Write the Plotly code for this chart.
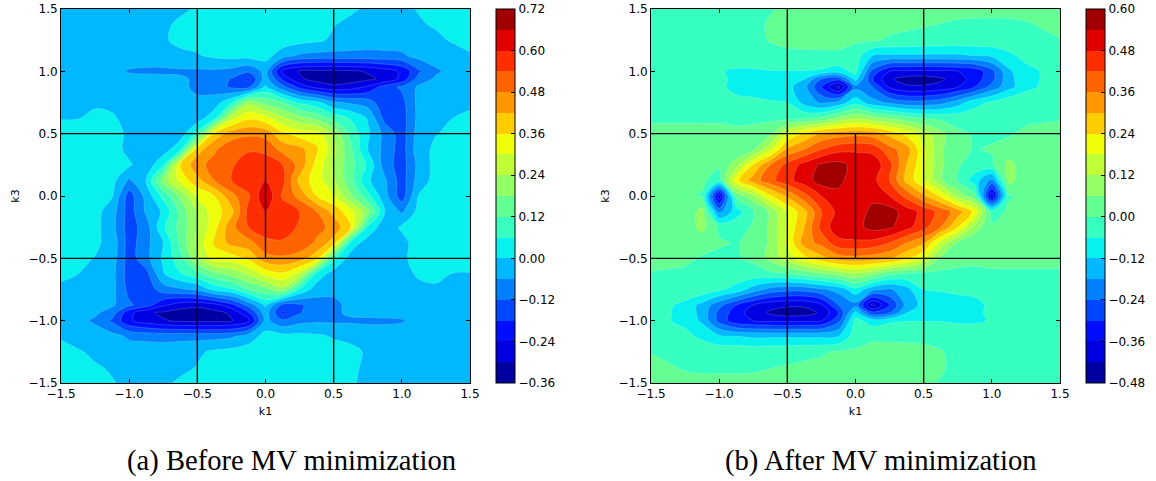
import plotly.graph_objects as go

k1_values = [-1.5,-1.375,-1.25,-1.125,-1.0,-0.875,-0.75,-0.625,-0.5,-0.375,-0.25,-0.125,0.0,
        0.125,0.25,0.375,0.5,0.625,0.75,0.875,1.0,1.125,1.25,1.375,1.5]
k3_values = [1.5,1.375,1.25,1.125,1.0,0.9375,0.875,0.75,0.625,0.5,0.375,0.25,0.125,0.0,
        -0.125,-0.25,-0.375,-0.5,-0.625,-0.75,-0.875,-0.9375,-1.0,-1.125,-1.25,-1.375,-1.5]

# values in hundredths, rows from k3=1.5 down to k3=-1.5
z_before = [
[-2,-2,-2,-2,-2,-2,-2,-1,.5,2,3,3,3,3,3,3,2,1,-1,-2,-1,.3,1.5,2.5,3],
[-2,-2,-2,-2,-2,-2,-1,1,2,3,3,3,3,3,2,2,.3,-1.5,-2,-2,-2,-.5,.5,1.5,2],
[-3,-3,-3,-3,-3,-3,-.5,1,2,2,2,3,3,3,2,1,-1,-2,-3,-3,-3,-2,-1,.5,1.5],
[-3,-3,-3,-3,-3,-3,-3,-1,-.5,1,2,2,2,-3,-7,-8,-8,-8,-8,-7.5,-7,-4,-3,-2,-.5],
[-3,-3,-3.5,-4,-6.5,-7,-7,-7,-7,-7,-8,-11,-4,-26,-30.5,-31.5,-31.5,-31,-29.5,-27,-23,-13,-7,-4,-2.5],
[-3,-3,-3,-3.5,-4,-4,-4.5,-5,-7,-8,-12.5,-19,-3,-19,-29,-32,-34.5,-33,-31,-29,-22,-9,-5,-3.5,-2.5],
[-3,-3,-3,-3,-3,-3,-3.5,-4,-8,-9,-13,-14,1,-10,-20,-26,-28,-27,-23,-15,-11,-5,-3,-3,-2],
[-3,-2.5,-1,-1.5,-3,-3,-3,-3,-4,-3,5,22,16,12,5,2,-5,-7,-9,-16,-14,-4,-3,-2,-1],
[-.2,-.2,1.5,.8,-2,-3,-3,-3,-3,4,28,35,32,25,20,16,10,5.5,-.5,-14,-15,-4,-2,0,1],
[2,2,2,2,-1,-2,-2.5,-3,8,38,45,47,46,37,33,33,23,10,1,-8,-15,-3,-.2,1,2],
[3,3,3,3,-2,-4,-3,4,39,47,52,53,52,46,44,37,26,13,0,-8,-15,-2,1,3,3],
[4,4,4,2,1,-4,5,36,46,50,53,58,58,54,46,34,24,14,5,-9,-15,-4,2,4,4],
[3,4,4,2,-7,0,20,32,40,48,54,58,60,56,40,33,25,14,1,-5,-15,-3,2,4,4],
[3,4,3,.5,-15,-4,8,19,31,36,46,53,65,53,46,36,31,19,8,-4,-15,.5,3,4,3],
[4,4,2,-3,-15,-5,1,14,25,33,40,56,60,58,54,48,40,32,20,0,-7,2,4,4,3],
[4,4,2,-4,-15,-9,5,14,24,34,46,54,58,58,53,50,46,36,5,-4,1,2,4,4,4],
[3,3,1,-2,-15,-8,0,13,26,37,44,46,52,53,52,47,39,4,-3,-4,-2,3,3,3,3],
[2,1,-.2,-3,-15,-8,1,10,23,33,33,37,46,47,45,38,8,-3,-2.5,-2,-1,2,2,2,2],
[1,0,-2,-4,-15,-14,-.5,5.5,10,16,20,25,32,35,28,4,-3,-3,-3,-3,-2,.8,1.5,-.2,-.2],
[-1,-2,-3,-4,-14,-16,-9,-7,-5,2,5,12,16,22,5,-3,-4,-3,-3,-3,-3,-1.5,-1,-2.5,-3],
[-2,-3,-3,-5,-11,-15,-23,-27,-28,-26,-20,-10,1,-14,-13,-9,-8,-4,-3.5,-3,-3,-3,-3,-3,-3],
[-2.5,-3.5,-5,-9,-22,-29,-31,-33,-34.5,-32,-29,-19,-3,-19,-12.5,-8,-7,-5,-4.5,-4,-4,-3.5,-3,-3,-3],
[-2.5,-4,-7,-13,-23,-27,-29.5,-31,-31.5,-31.5,-30.5,-26,-4,-11,-8,-7,-7,-7,-7,-7,-6.5,-4,-3.5,-3,-3],
[-.5,-2,-3,-4,-7,-7.5,-8,-8,-8,-8,-7,-3,2,2,2,1,-.5,-1,-3,-3,-3,-3,-3,-3,-3],
[1.5,.5,-1,-2,-3,-3,-3,-2,-1,1,2,3,3,3,2,2,2,1,-.5,-3,-3,-3,-3,-3,-3],
[2,1.5,.5,-.5,-2,-2,-2,-1.5,.3,2,2,3,3,3,3,3,2,1,-1,-2,-2,-2,-2,-2,-2],
[3,2.5,1.5,.3,-1,-2,-1,1,2,3,3,3,3,3,3,3,2,.5,-1,-2,-2,-2,-2,-2,-2],
]

z_after = [
[-1,-1,-1,-1,-1,-1,-1,-.2,.5,1,1,1.5,1.5,1.5,1.5,1.5,1,1,1,1,1,1,1,1,1],
[-1,-1,-1,-1,-1,-1,-.7,.3,.8,1,1,1.2,1.2,1.2,1,.7,.3,-.1,-.5,-.7,-.7,-.7,-.3,.3,.8],
[-1.5,-1.5,-1.5,-1.5,-1.5,-1.5,-1,.2,.5,.7,.8,.8,.8,.5,-.5,-1,-1.5,-1.8,-2,-2,-2,-1.5,-1.2,-.7,-.1],
[-1.5,-1.5,-1.5,-1.5,-1.5,-1.5,-1.5,-1.2,-.5,-.5,-.5,-.5,-3,-12,-13,-13,-13,-13,-13,-12,-11,-7.5,-4,-2.5,-1.5],
[-2,-2,-2.5,-3,-5.5,-7,-7,-6.3,-6.3,-6.3,-7,-9,-4,-26,-36,-37,-37.5,-37,-36,-34,-26,-13,-8,-5.5,-3],
[-2,-2,-3,-3.5,-5,-7,-7.5,-8,-8,-12,-24,-28,-10,-30,-41,-44.5,-45,-43,-39,-33,-26,-14,-8,-5.5,-3.5],
[-2,-2.5,-3,-3.5,-4.5,-8,-8,-9,-10,-16,-30,-44,-20,-24,-37,-41,-41,-40,-36,-30,-22,-14,-8,-5,-4],
[-1.5,-1.5,-1.5,-1.5,-2,-4,-5,-5.5,-6,-14,-19,-16,-8,-16,-19,-22,-22,-20,-15,-8,-5,-2,-1,-1,-1],
[-.5,-.5,-.5,-.5,-.5,-1,-1,-1.5,-2,-1,1,7,11,8,5,2,-.5,-1.5,-2,-2.5,-3,-1.5,-1,-.5,-.2],
[1,1,1,1,1,1,1.5,5,18,25,31,33,34,33,28,22,15,8,1,-.5,-1,-.5,1,1,1],
[1,1,1,1,1,1.5,5,16,31,36,42,46,47,46,38,33,19,7,1,-.3,.5,2,2,1,1],
[1,1,1,2,1,9,24,36,44,50,55,56,52,52,44,30,19,7,.5,-2,-1,8,2,1,1],
[1,1,1.5,1,-3,22,33,40,46,51,57,55,52,50,42,28,19,7,-.5,-9,-20,8,2,1,1],
[1,1,1,-.5,-40,2,10,23,31,40,48,53,52,53,48,40,31,23,10,2,-40,-.5,1,1,1],
[1,1,2,8,-20,-9,-.5,7,19,28,42,50,52,55,57,51,46,40,33,22,-3,1,1.5,1,1],
[1,1,2,8,-1,-2,.5,7,19,30,44,52,52,56,55,50,44,36,24,9,1,2,1,1,1],
[1,1,2,2,.5,-.3,1,7,19,33,38,46,47,46,42,36,31,16,5,1.5,1,1,1,1,1],
[1,1,1,-.5,-1,-.5,1,8,15,22,28,33,34,33,31,25,18,5,1.5,1,1,1,1,1,1],
[-.2,-.5,-1,-1.5,-3,-2.5,-2,-1.5,-.5,2,5,8,11,7,1,-1,-2,-1.5,-1,-1,-.5,-.5,-.5,-.5,-.5],
[-1,-1,-1,-2,-5,-8,-15,-20,-22,-22,-19,-16,-8,-16,-19,-14,-6,-5.5,-5,-4,-2,-1.5,-1.5,-1.5,-1.5],
[-4,-5,-8,-14,-22,-30,-36,-40,-41,-41,-37,-24,-20,-44,-30,-16,-10,-9,-8,-8,-4.5,-3.5,-3,-2.5,-2],
[-3.5,-5.5,-8,-14,-26,-33,-39,-43,-45,-44.5,-41,-30,-10,-28,-24,-12,-8,-8,-7.5,-7,-5,-3.5,-3,-2,-2],
[-3,-5.5,-8,-13,-26,-34,-36,-37,-37.5,-37,-36,-26,-4,-9,-7,-6.3,-6.3,-6.3,-7,-7,-5.5,-3,-2.5,-2,-2],
[-1.5,-2.5,-4,-7.5,-11,-12,-13,-13,-13,-13,-13,-12,-3,-.5,-.5,-.5,-.5,-1.2,-1.5,-1.5,-1.5,-1.5,-1.5,-1.5,-1.5],
[-.1,-.7,-1.2,-1.5,-2,-2,-2,-1.8,-1.5,-1,-.5,.5,.8,.8,.8,.7,.5,.2,-1,-1.5,-1.5,-1.5,-1.5,-1.5,-1.5],
[.8,.3,-.3,-.7,-.7,-.7,-.5,-.1,.3,.7,1,1.2,1.2,1.2,1,1,.8,.3,-.7,-1,-1,-1,-1,-1,-1],
[1,1,1,1,1,1,1,1,1,1.5,1.5,1.5,1.5,1.5,1,1,.5,-.2,-1,-1,-1,-1,-1,-1,-1],
]

levels_before_start, levels_before_end = -0.36, 0.72
levels_after_start, levels_after_end = -0.48, 0.60
level_step = 0.06
ticks_before = [-0.36,-0.24,-0.12,0.0,0.12,0.24,0.36,0.48,0.60,0.72]
ticks_after = [-0.48,-0.36,-0.24,-0.12,0.0,0.12,0.24,0.36,0.48,0.60]
axis_ticks = [-1.5,-1.0,-0.5,0.0,0.5,1.0,1.5]

band_colors = ["rgb(0,0,160)","rgb(0,0,224)","rgb(0,14,255)","rgb(0,71,255)","rgb(0,128,255)",
 "rgb(0,184,255)","rgb(9,241,238)","rgb(55,255,192)","rgb(100,255,146)","rgb(146,255,100)",
 "rgb(192,255,55)","rgb(238,255,9)","rgb(255,204,0)","rgb(255,151,0)","rgb(255,99,0)",
 "rgb(255,46,0)","rgb(224,0,0)","rgb(160,0,0)"]
n = len(band_colors)
contour_scale = [[0, band_colors[0]]] + [[(i+1)/(n+1), c] for i, c in enumerate(band_colors)] + [[1, band_colors[-1]]]
# crisp stepped scale for the colour bar
bar_scale = []
for i, c in enumerate(band_colors):
    bar_scale += [[i/n, c], [(i+1)/n, c]]

guide_v1_x, guide_v1_y = [-0.5,-0.5], [-1.5,1.5]
guide_v2_x, guide_v2_y = [0.5,0.5], [-1.5,1.5]
guide_h1_x, guide_h1_y = [-1.5,1.5], [0.5,0.5]
guide_h2_x, guide_h2_y = [-1.5,1.5], [-0.5,-0.5]
guide_c_x, guide_c_y = [0.0,0.0], [-0.5,0.5]

W, H = 1156, 481
FONT = "DejaVu Sans"
top_px, bot_px = 9, 383

fig = go.Figure()

def add_panel(z, start, end, ticks, xa, ya, bar_left):
    zz = [[v/100 for v in r] for r in z]
    fig.add_trace(go.Heatmap(
        x=k1_values, y=k3_values, z=zz, xaxis=xa, yaxis=ya, zmin=start, zmax=end, colorscale=bar_scale,
        colorbar=dict(x=bar_left/W, xanchor="left", xref="paper", y=(H-top_px)/H, yanchor="top",
                      yref="paper", len=(bot_px-top_px)/H, lenmode="fraction", thickness=19,
                      thicknessmode="pixels", xpad=0, ypad=0, outlinecolor="black", outlinewidth=1,
                      tickmode="array", tickvals=ticks, ticktext=[f"{t:.2f}".replace("-", "\u2212") for t in ticks],
                      ticks="inside", ticklen=4, tickcolor="black", tickwidth=1,
                      tickfont=dict(family=FONT, size=12, color="black")),
        hoverinfo="skip"))
    fig.add_trace(go.Contour(
        x=k1_values, y=k3_values, z=zz, xaxis=xa, yaxis=ya, showscale=False,
        colorscale=contour_scale, autocontour=False,
        contours=dict(start=start, end=end+0.0001, size=level_step, coloring="fill", showlines=True),
        line=dict(width=0.4, color="rgba(255,255,255,0.45)", smoothing=1),
        hoverinfo="skip"))
    for gx, gy in [(guide_v1_x,guide_v1_y),(guide_v2_x,guide_v2_y),(guide_h1_x,guide_h1_y),
                   (guide_h2_x,guide_h2_y),(guide_c_x,guide_c_y)]:
        fig.add_trace(go.Scatter(x=gx, y=gy, mode="lines", xaxis=xa, yaxis=ya, showlegend=False,
                                 line=dict(color="black", width=1.4), hoverinfo="skip"))

add_panel(z_before, levels_before_start, levels_before_end, ticks_before, "x", "y", 496)
add_panel(z_after, levels_after_start, levels_after_end, ticks_after, "x2", "y2", 1086)

def axis(dom, title, anchor, standoff):
    return dict(domain=dom, range=[-1.5,1.5], tickmode="array", tickvals=axis_ticks,
                ticktext=[f"{t:.1f}".replace("-", "\u2212") for t in axis_ticks],
                ticks="inside", ticklen=4, tickcolor="black", mirror="ticks", showline=True,
                linecolor="black", linewidth=1, showgrid=False, zeroline=False,
                tickfont=dict(family=FONT, size=12, color="black"), anchor=anchor,
                title=dict(text=title, font=dict(family=FONT, size=11, color="black"), standoff=standoff))

ydom = [(H-bot_px)/H, (H-top_px)/H]
fig.update_layout(
    width=W, height=H, margin=dict(l=0, r=0, t=0, b=0, autoexpand=False), paper_bgcolor="white", plot_bgcolor="white",
    showlegend=False,
    xaxis=axis([61/W,470/W], "k1", "y", 6),
    yaxis=axis(ydom, "k3", "x", 6),
    xaxis2=axis([651/W,1060/W], "k1", "y2", 6),
    yaxis2=axis(ydom, "k3", "x2", 6),
    annotations=[
        dict(text="(a) Before MV minimization", x=291.5/W, y=(H-461)/H, xref="paper", yref="paper",
             showarrow=False, xanchor="center", yanchor="middle",
             font=dict(family="Liberation Serif", size=28.6, color="black")),
        dict(text="(b) After MV minimization", x=881/W, y=(H-461)/H, xref="paper", yref="paper",
             showarrow=False, xanchor="center", yanchor="middle",
             font=dict(family="Liberation Serif", size=28.6, color="black")),
    ])
fig.write_html("out.html", config={"displayModeBar": False},
               post_script="document.body.style.margin='0';document.body.style.overflow='hidden';")
